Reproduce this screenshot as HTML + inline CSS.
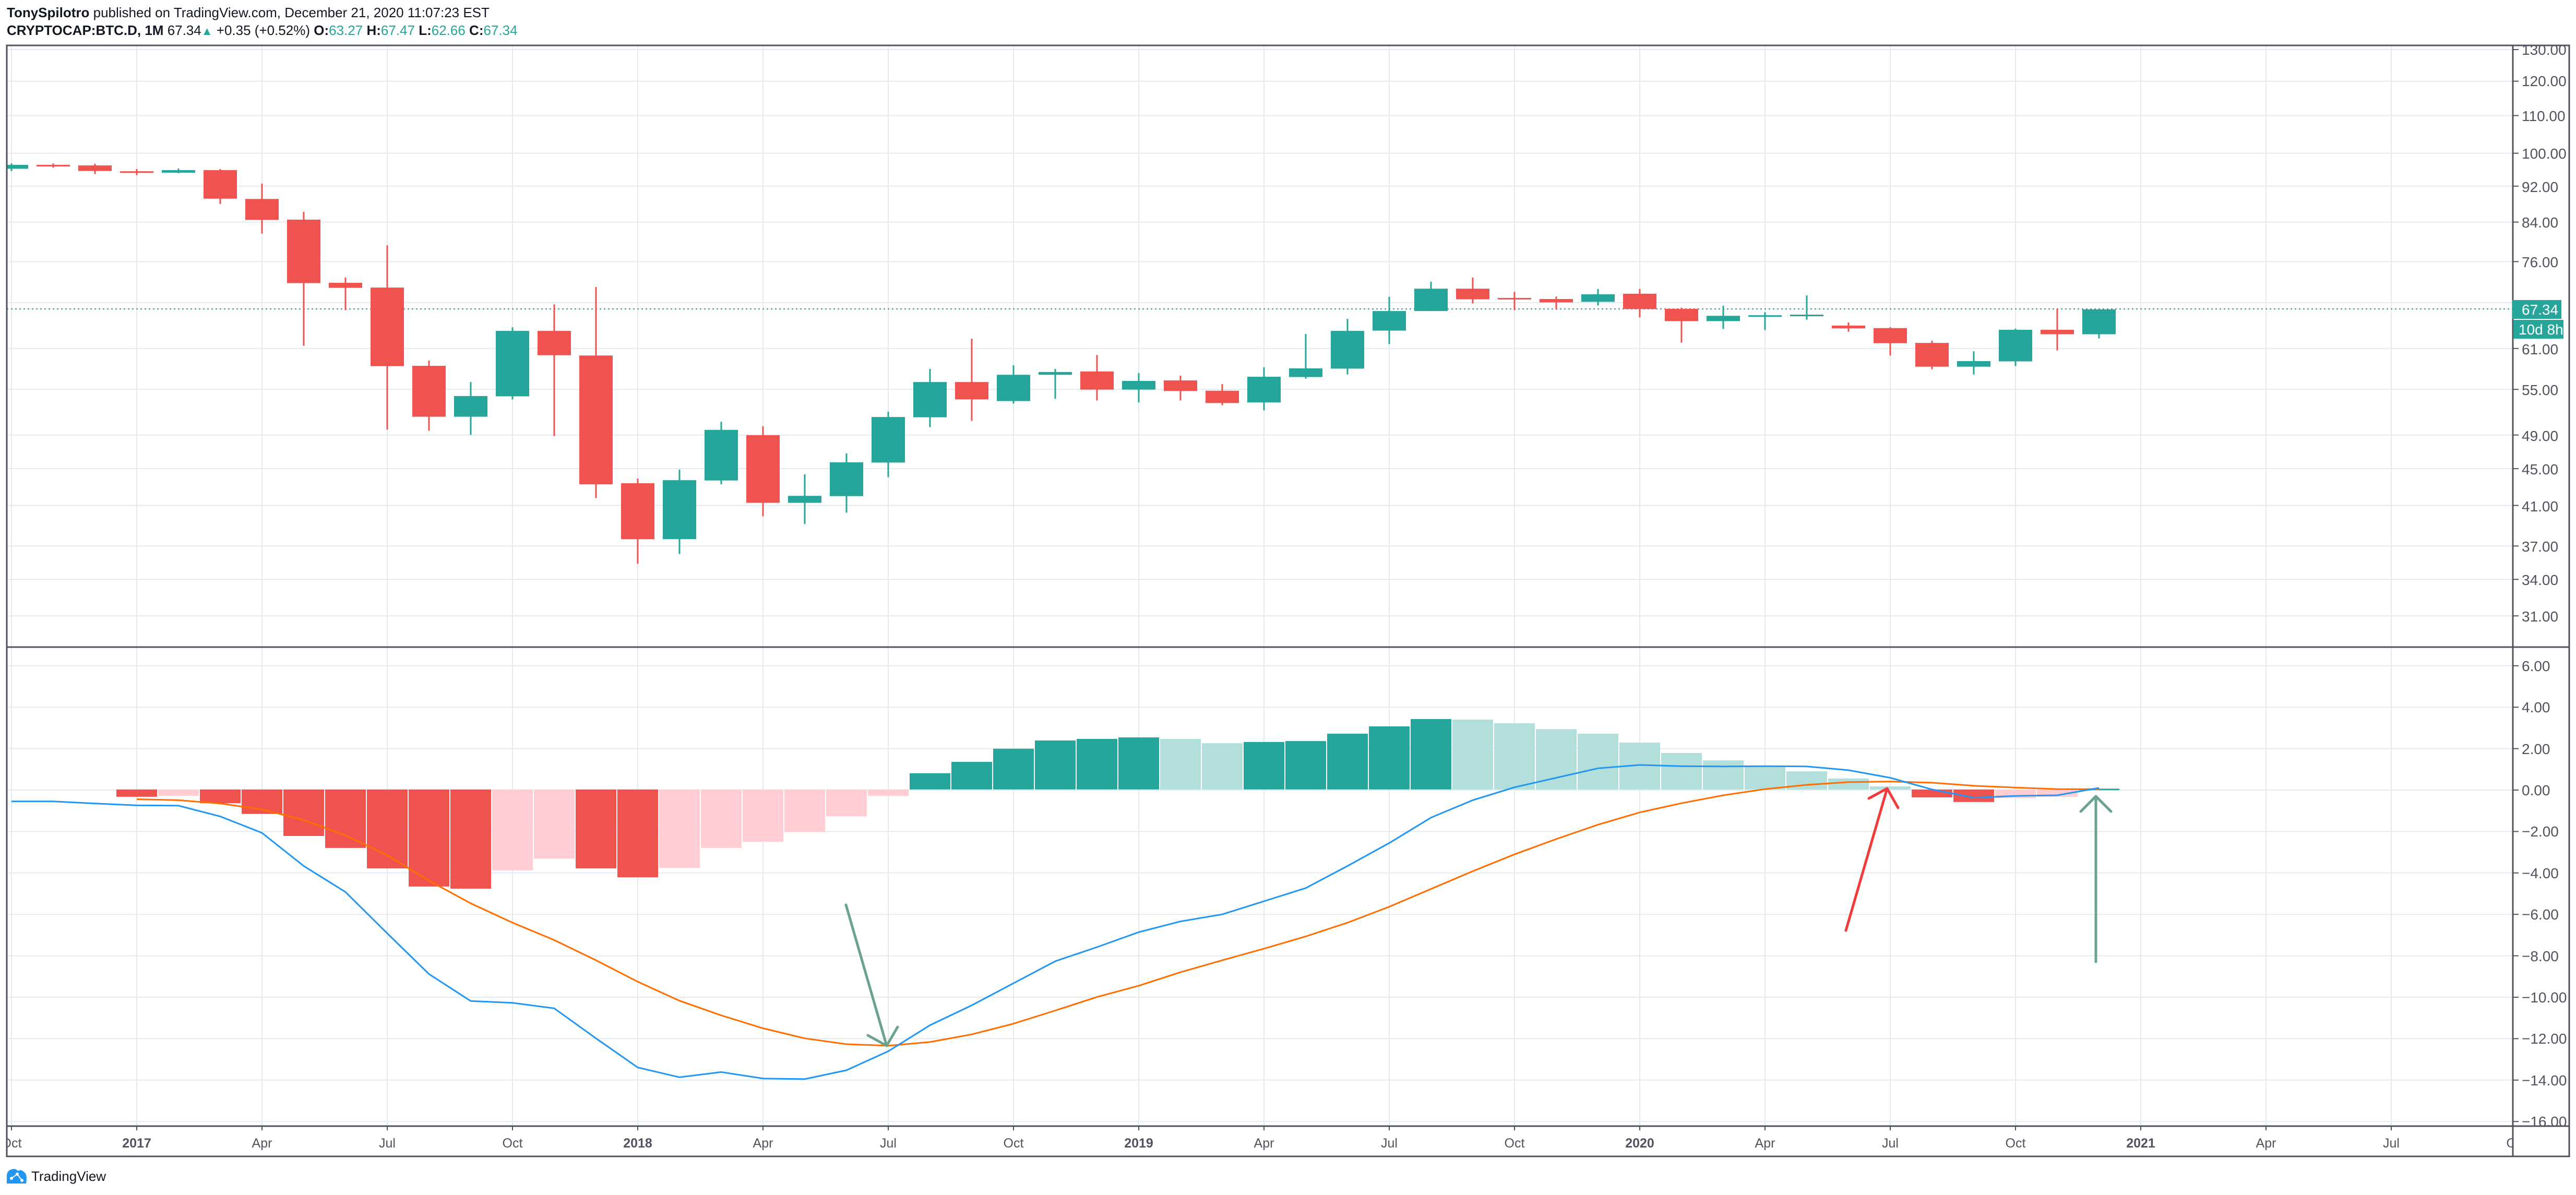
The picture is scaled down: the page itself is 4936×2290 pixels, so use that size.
<!DOCTYPE html>
<html><head><meta charset="utf-8"><style>
html,body{margin:0;padding:0;background:#fff;}
svg{display:block;}
</style></head><body>
<svg id="s" xmlns="http://www.w3.org/2000/svg" width="4936" height="2290" viewBox="0 0 4936 2290" font-family="'Liberation Sans', sans-serif">
<defs>
<clipPath id="cp"><rect x="13" y="87" width="4802" height="1153"/></clipPath>
<clipPath id="cm"><rect x="13" y="1240" width="4802" height="918"/></clipPath>
<clipPath id="ct"><rect x="14" y="2158" width="4801" height="58"/></clipPath>
<clipPath id="ca"><rect x="4815" y="87" width="108" height="2071"/></clipPath>
</defs>
<rect width="4936" height="2290" fill="#fff"/>
<g id="grid"></g>
<g id="main" clip-path="url(#cp)"></g>
<g id="macd" clip-path="url(#cm)"></g>
<g id="axes"></g>
<!-- header -->
<text x="13" y="33" font-size="26" fill="#131722"><tspan font-weight="bold">TonySpilotro</tspan> published on TradingView.com, December 21, 2020 11:07:23 EST</text>
<text x="13" y="67" font-size="26" fill="#131722"><tspan font-weight="bold">CRYPTOCAP:BTC.D, 1M</tspan> 67.34<tspan fill="#26a69a" font-size="22">▲</tspan> +0.35 (+0.52%) <tspan font-weight="bold">O:</tspan><tspan fill="#26a69a">63.27</tspan> <tspan font-weight="bold">H:</tspan><tspan fill="#26a69a">67.47</tspan> <tspan font-weight="bold">L:</tspan><tspan fill="#26a69a">62.66</tspan> <tspan font-weight="bold">C:</tspan><tspan fill="#26a69a">67.34</tspan></text>
<!-- price axis labels -->
<g font-family="'Liberation Sans Narrow','Liberation Sans',sans-serif" font-size="28" fill="#50535e" clip-path="url(#ca)">
<text x="4832" y="105">130.00</text>
<text x="4832" y="165">120.00</text>
<text x="4832" y="232">110.00</text>
<text x="4832" y="304">100.00</text>
<text x="4832" y="368">92.00</text>
<text x="4832" y="436">84.00</text>
<text x="4832" y="512">76.00</text>
<text x="4832" y="679">61.00</text>
<text x="4832" y="757">55.00</text>
<text x="4832" y="845">49.00</text>
<text x="4832" y="909">45.00</text>
<text x="4832" y="980">41.00</text>
<text x="4832" y="1057">37.00</text>
<text x="4832" y="1121">34.00</text>
<text x="4832" y="1191">31.00</text>
<text x="4832" y="1286">6.00</text>
<text x="4832" y="1365">4.00</text>
<text x="4832" y="1445">2.00</text>
<text x="4832" y="1524">0.00</text>
<text x="4832" y="1603">−2.00</text>
<text x="4832" y="1683">−4.00</text>
<text x="4832" y="1762">−6.00</text>
<text x="4832" y="1842">−8.00</text>
<text x="4832" y="1921">−10.00</text>
<text x="4832" y="2000">−12.00</text>
<text x="4832" y="2080">−14.00</text>
<text x="4832" y="2159">−16.00</text>
</g>
<!-- price tags -->
<rect x="4814" y="575" width="94" height="36" fill="#26a69a"/>
<text x="4832" y="603" font-family="'Liberation Sans Narrow','Liberation Sans',sans-serif" font-size="28" fill="#fff">67.34</text>
<rect x="4816" y="613" width="96" height="36" fill="#26a69a"/>
<text x="4826" y="641" font-family="'Liberation Sans Narrow','Liberation Sans',sans-serif" font-size="28" fill="#fff">10d 8h</text>
<!-- time axis labels -->
<g font-size="25" fill="#50535e" text-anchor="middle" clip-path="url(#ct)">
<text x="22" y="2199">Oct</text>
<text x="262" y="2199" font-weight="bold">2017</text>
<text x="502" y="2199">Apr</text>
<text x="742" y="2199">Jul</text>
<text x="982" y="2199">Oct</text>
<text x="1222" y="2199" font-weight="bold">2018</text>
<text x="1462" y="2199">Apr</text>
<text x="1702" y="2199">Jul</text>
<text x="1942" y="2199">Oct</text>
<text x="2182" y="2199" font-weight="bold">2019</text>
<text x="2422" y="2199">Apr</text>
<text x="2662" y="2199">Jul</text>
<text x="2902" y="2199">Oct</text>
<text x="3142" y="2199" font-weight="bold">2020</text>
<text x="3382" y="2199">Apr</text>
<text x="3622" y="2199">Jul</text>
<text x="3862" y="2199">Oct</text>
<text x="4102" y="2199" font-weight="bold">2021</text>
<text x="4342" y="2199">Apr</text>
<text x="4582" y="2199">Jul</text>
<text x="4822" y="2199">Oct</text>
</g>
<!-- footer logo -->
<g fill="#2196f3">
<path d="M13 2268 L13 2252 Q14 2243 22 2241 Q30 2238 34 2244 Q40 2240 46 2246 Q53 2250 50 2268 Z"/>
</g>
<circle cx="22" cy="2258" r="3" fill="#fff"/><circle cx="33" cy="2250" r="3" fill="#fff"/><circle cx="42" cy="2262" r="3" fill="#fff"/>
<polyline points="22,2258 33,2250 42,2262" stroke="#fff" stroke-width="2" fill="none"/>
<text x="60" y="2263" font-size="26" fill="#131722" font-family="'Liberation Sans Narrow','Liberation Sans',sans-serif">TradingView</text>
<g id="ann"></g>
</svg>
<script>
(function(){
var NS="http://www.w3.org/2000/svg";
function el(p,t,a){var e=document.createElementNS(NS,t);for(var k in a)e.setAttribute(k,a[k]);document.getElementById(p).appendChild(e);return e;}
var GRID="#e3ebf1",BORDER="#50535e";
function py(p){return 95+(Math.log(130)-Math.log(p))*757;}
var prices=[130,120,110,100,92,84,76,68.5,61,55,49,45,41,37,34,31];
prices.forEach(function(p){var y=py(p);el("grid","line",{x1:13,x2:4815,y1:y,y2:y,stroke:GRID,"stroke-width":2});el("axes","line",{x1:4815,x2:4826,y1:y,y2:y,stroke:BORDER,"stroke-width":2});});
for(var v=6;v>=-16;v-=2){var y=1514-v*39.7;el("grid","line",{x1:13,x2:4815,y1:y,y2:y,stroke:GRID,"stroke-width":2});el("axes","line",{x1:4815,x2:4826,y1:y,y2:y,stroke:BORDER,"stroke-width":2});}
for(var k=0;k<=20;k++){var x=22+240*k;if(x<4815){el("grid","line",{x1:x,x2:x,y1:87,y2:2158,stroke:GRID,"stroke-width":2});el("axes","line",{x1:x,x2:x,y1:2158,y2:2166,stroke:BORDER,"stroke-width":2});}}
el("main","line",{x1:13,x2:4815,y1:592,y2:592,stroke:"#26a69a","stroke-width":2,"stroke-dasharray":"3,5"});
var C=[['g',67,81,62,89],['r',67,70,62,77],['r',69,89,63,100],['r',90,94,82,104],['g',86,95,80,97],['r',86,188,82,207],['r',189,264,134,313],['r',263,490,235,714],['r',489,507,470,587],['r',506,787,355,1014],['r',786,968,767,1018],['g',894,968,844,1033],['g',661,895,648,906],['r',661,748,566,1037],['r',749,1210,504,1259],['r',1206,1406,1189,1494],
['g',1195,1406,1157,1459],['g',1015,1196,986,1210],['r',1034,1276,1002,1324],['g',1251,1276,1174,1352],['g',1131,1252,1099,1311],['g',969,1132,950,1184],['g',844,970,797,1005],['r',844,906,689,983],['g',818,912,784,921],['g',808,818,797,904],['r',806,871,747,910],['g',840,871,812,917],['r',838,876,821,910],['r',875,919,851,927],['g',825,917,791,945],
['g',795,826,672,832],['g',661,796,618,817],['g',590,660,539,708],['g',510,590,485,590],['r',510,548,470,563],['r',543,548,521,587],['r',547,559,538,585],['g',530,557,511,570],['r',528,583,511,613],['r',582,626,578,703],['g',607,626,571,654],['g',605,608,594,658],['g',603,607,534,621],['r',642,652,631,664],['r',651,705,648,749],
['r',704,789,696,798],['g',769,789,734,817],['g',657,770,653,787],['r',657,673,582,731],['g',584,673,584,688]];
function cy(d){return 280+d*840/1568;}
C.forEach(function(c,m){var x=22+80*m,col=c[0]=='g'?'#26a69a':'#ef5350';
el("main","rect",{x:x-1.5,y:cy(c[3]),width:3,height:cy(c[4])-cy(c[3]),fill:col});
var t=cy(c[1]),b=cy(c[2]);if(b-t<3)b=t+3;
el("main","rect",{x:x-32,y:t,width:64,height:b-t,fill:col});});
function my(d){return 1240+d*920/1568;}
var Z=my(465);
var H=[null,null,null,['r',489],['p',486],['r',510],['r',545],['r',617],['r',656],['r',723],['r',782],['r',789],['p',729],['p',691],['r',723],['r',752],['p',721],['p',656],['p',636],['p',604],['p',553],['p',486],
['g',412],['g',375],['g',332],['g',305],['g',300],['g',295],['l',300],['l',314],['g',310],['g',307],['g',283],['g',259],['g',235],['l',237],['l',249],['l',268],['l',283],['l',312],['l',346],['l',370],['l',390],['l',406],['l',429],['l',455],['r',491],['r',506],['p',493],['p',489],['g',463]];
var HC={r:'#ef5350',p:'#ffcdd2',g:'#26a69a',l:'#b2dfdb'};
H.forEach(function(h,m){if(!h)return;var x=22+80*m,y=my(h[1]);var t=Math.min(y,Z),b=Math.max(y,Z);if(b-t<3){t=Z-1.5;b=Z+1.5;}
el("macd","rect",{x:x-39,y:t,width:78,height:b-t,fill:HC[h[0]]});});
var M=[504,504,511,517,518,553,607,715,800,935,1068,1156,1162,1180,1278,1373,1405,1388,1409,1411,1382,1320,1235,1170,1098,1026,980,931,896,873,830,787,715,640,557,500,458,427,396,385,389,390,389,390,402,427,465,492,486,484,460];
var S=[null,null,null,497,500,511,530,565,615,680,763,837,900,957,1023,1093,1155,1203,1245,1278,1297,1302,1290,1265,1230,1187,1143,1106,1062,1023,985,945,900,848,790,732,677,627,580,540,510,484,464,450,441,439,443,453,459,464,464];
function pts(a){var s=[];a.forEach(function(d,m){if(d!=null)s.push((22+80*m)+","+my(d).toFixed(1));});return s.join(" ");}
el("macd","polyline",{points:pts(S),fill:"none",stroke:"#ff6d00","stroke-width":3});
el("macd","polyline",{points:pts(M),fill:"none",stroke:"#2196f3","stroke-width":3});
function ar(c,pp){el("ann","polyline",{points:pp,fill:"none",stroke:c,"stroke-width":5,"stroke-linecap":"round","stroke-linejoin":"round"});}
ar("#6ca38e","1621,1734 1699,2004");ar("#6ca38e","1663,1984 1699,2004 1720,1968");
ar("#f23a3a","3537,1783 3616,1511");ar("#f23a3a","3581,1530 3616,1511 3637,1548");
ar("#6ca38e","4016,1843 4016,1526");ar("#6ca38e","3987,1555 4016,1526 4045,1555");
el("axes","rect",{x:13,y:87,width:4910,height:2129,fill:"none",stroke:BORDER,"stroke-width":3});
el("axes","line",{x1:4815,x2:4815,y1:87,y2:2216,stroke:BORDER,"stroke-width":3});
el("axes","line",{x1:13,x2:4923,y1:1240,y2:1240,stroke:BORDER,"stroke-width":3});
el("axes","line",{x1:13,x2:4923,y1:2158,y2:2158,stroke:BORDER,"stroke-width":3});
})();
</script>
</body></html>
